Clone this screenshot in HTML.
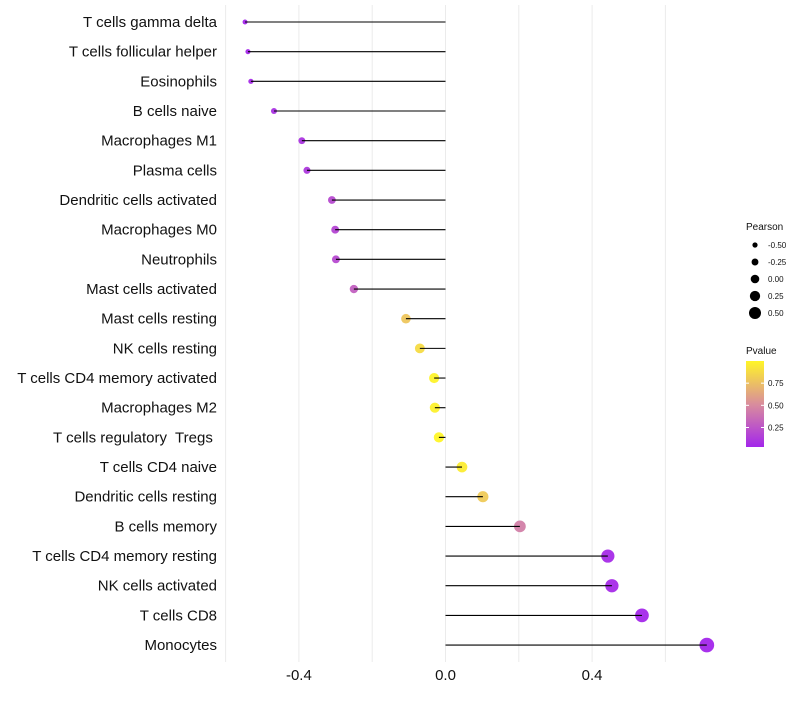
<!DOCTYPE html>
<html><head><meta charset="utf-8"><style>body{margin:0;background:#fff}svg text{font-family:"Liberation Sans",sans-serif;white-space:pre}</style></head>
<body>
<svg id="c" width="800" height="700" xmlns="http://www.w3.org/2000/svg"></svg>
<script>
const categories=["T cells gamma delta","T cells follicular helper","Eosinophils","B cells naive","Macrophages M1","Plasma cells","Dendritic cells activated","Macrophages M0","Neutrophils","Mast cells activated","Mast cells resting","NK cells resting","T cells CD4 memory activated","Macrophages M2","T cells regulatory  Tregs ","T cells CD4 naive","Dendritic cells resting","B cells memory","T cells CD4 memory resting","NK cells activated","T cells CD8","Monocytes"];
const pearson=[-0.547,-0.539,-0.531,-0.468,-0.392,-0.378,-0.310,-0.301,-0.299,-0.250,-0.108,-0.070,-0.031,-0.029,-0.018,0.045,0.102,0.203,0.443,0.454,0.536,0.713];
const pvalue=[0.03,0.04,0.05,0.08,0.1,0.12,0.2,0.18,0.2,0.3,0.78,0.88,0.99,0.98,1.0,0.96,0.8,0.45,0.05,0.05,0.04,0.03];
const xTicks=[-0.4,0.0,0.4];
const xTickLabels=["-0.4","0.0","0.4"];
const sizeBreaks=[-0.5,-0.25,0,0.25,0.5];
const sizeLabels=["-0.50","-0.25","0.00","0.25","0.50"];
const colorTicks=[0.25,0.5,0.75];
const colorTickLabels=["0.25","0.50","0.75"];

const svg=document.getElementById('c');const NS='http://www.w3.org/2000/svg';
function mk(t,a,p){const e=document.createElementNS(NS,t);for(const k in a)e.setAttribute(k,a[k]);(p||svg).appendChild(e);return e;}
const x=v=>445.5+v*366.5;
const y=i=>22+i*29.67;
const r=v=>Math.sqrt(Math.max(1,6+38*(v+0.55)));
const rl=v=>4.3+3.4*v;
function col(p){const s=[[160,32,240],[216,138,160],[255,245,40]];let a,b,t;if(p<0.5){a=s[0];b=s[1];t=p/0.5;}else{a=s[1];b=s[2];t=(p-0.5)/0.5;}t=Math.max(0,Math.min(1,t));return 'rgb('+a.map((c,i)=>Math.round(c+(b[i]-c)*t)).join(',')+')';}
[-0.6,-0.4,-0.2,0,0.2,0.4,0.6].forEach(g=>{const l=mk('line',{x1:x(g),x2:x(g),y1:5,y2:662,stroke:'#ebebeb','stroke-width':1});
});
categories.forEach((c,i)=>{const t=mk('text',{x:217,y:y(i)+5,'text-anchor':'end','font-size':15,fill:'#111'});t.textContent=c;

const l=mk('line',{x1:x(0),x2:x(pearson[i]),y1:y(i),y2:y(i),stroke:'#000','stroke-width':1.1});
const pt=mk('circle',{cx:x(pearson[i]),cy:y(i),r:r(pearson[i]),fill:col(pvalue[i]),'fill-opacity':0.95});

svg.appendChild(l);});
xTicks.forEach((v,i)=>{const t=mk('text',{x:x(v),y:680,'text-anchor':'middle','font-size':15,fill:'#111'});t.textContent=xTickLabels[i];
});
const lg=mk('g',{});
mk('text',{x:746,y:230,'font-size':10,fill:'#111'},lg).textContent='Pearson';
sizeBreaks.forEach((v,i)=>{const cy=245+i*17;mk('circle',{cx:755,cy:cy,r:rl(v),fill:'#000'},lg);mk('text',{x:768,y:cy+3,'font-size':8,fill:'#111'},lg).textContent=sizeLabels[i];});
const cg=mk('g',{});
mk('text',{x:746,y:354,'font-size':10,fill:'#111'},cg).textContent='Pvalue';
const d=mk('defs',{},cg);const gr=mk('linearGradient',{id:'g',x1:0,y1:1,x2:0,y2:0},d);
[0,0.25,0.5,0.75,1].forEach(o=>mk('stop',{offset:o,'stop-color':col(0.03+o*0.97)},gr));
mk('rect',{x:746,y:361,width:18,height:86,fill:'url(#g)'},cg);
const cy=p=>445-(p-0.03)/0.97*86+2;
colorTicks.forEach((v,i)=>{mk('text',{x:768,y:cy(v)+3,'font-size':8,fill:'#111'},cg).textContent=colorTickLabels[i];
mk('line',{x1:746,x2:749,y1:cy(v),y2:cy(v),stroke:'#fff'},cg);mk('line',{x1:761,x2:764,y1:cy(v),y2:cy(v),stroke:'#fff'},cg);});
</script>
</body></html>
